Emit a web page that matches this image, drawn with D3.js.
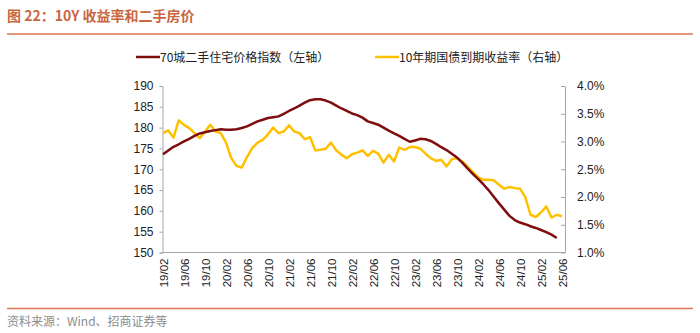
<!DOCTYPE html>
<html>
<head>
<meta charset="utf-8">
<script src="https://cdn.jsdelivr.net/npm/d3@7"></script>
<style>
  body { margin: 0; background: #fff; }
  svg { display: block; font-family: "Liberation Sans", "Noto Sans CJK SC", sans-serif; }
</style>
</head>
<body>
<div id="chart"></div>
<script>
// monthly, 2019/02 .. 2025/06
const startMonth = [2019, 2];
const priceIndex = [
  173.6, 174.5, 175.4, 176.0, 176.7, 177.3, 178.0, 178.6, 178.9, 179.2,
  179.4, 179.6, 179.5, 179.5, 179.6, 179.9, 180.3, 180.9, 181.5, 181.9,
  182.3, 182.5, 182.7, 183.3, 184.0, 184.6, 185.3, 186.0, 186.6, 186.8,
  186.8, 186.5, 186.0, 185.3, 184.6, 184.0, 183.4, 183.0, 182.4, 181.5,
  181.1, 180.7, 180.0, 179.3, 178.6, 178.0, 177.3, 176.6, 176.9, 177.3,
  177.2, 176.8, 176.1, 175.3, 174.6, 173.7, 172.8, 171.6, 170.2, 168.9,
  167.7, 166.4, 165.0, 163.4, 161.8, 160.3, 158.8, 157.8, 157.2, 156.8,
  156.3, 155.9, 155.4, 154.9, 154.3, 153.5
];
const yield10y = [
  3.15, 3.20, 3.07, 3.38, 3.30, 3.24, 3.15, 3.06, 3.18, 3.30,
  3.18, 3.15, 2.98, 2.70, 2.56, 2.53, 2.72, 2.88, 2.98, 3.03,
  3.13, 3.25, 3.15, 3.18, 3.29, 3.18, 3.15, 3.04, 3.08, 2.84,
  2.85, 2.87, 2.98, 2.84, 2.76, 2.70, 2.77, 2.80, 2.84, 2.74,
  2.83, 2.78, 2.62, 2.76, 2.64, 2.89, 2.85, 2.90, 2.90, 2.87,
  2.78, 2.70, 2.65, 2.67, 2.55, 2.68, 2.70, 2.64, 2.55, 2.45,
  2.36, 2.31, 2.31, 2.30, 2.22, 2.15, 2.18, 2.16, 2.15, 2.00,
  1.68, 1.64, 1.72, 1.83, 1.63, 1.68, 1.65
];
const leftTicks = [150, 155, 160, 165, 170, 175, 180, 185, 190];
const rightTicks = [1.0, 1.5, 2.0, 2.5, 3.0, 3.5, 4.0];
const seriesNames = ["70城二手住宅价格指数（左轴）", "10年期国债到期收益率（右轴）"];

function monthLabel(i) {
  const m0 = startMonth[1] - 1 + i;
  const y = startMonth[0] + Math.floor(m0 / 12);
  const m = (m0 % 12) + 1;
  return String(y % 100).padStart(2, "0") + "/" + String(m).padStart(2, "0");
}

const width = 700, height = 333;
const svg = d3.select("#chart").append("svg")
  .attr("width", width).attr("height", height);

const titleColor = "#c9663f";
const cjk = '"Noto Sans CJK SC", sans-serif';

// header
svg.append("text")
  .attr("x", 7).attr("y", 21)
  .attr("fill", titleColor)
  .style("font-family", cjk)
  .style("font-size", "14px").style("font-weight", "bold")
  .text("图 22：10Y 收益率和二手房价");
svg.append("line")
  .attr("x1", 7).attr("x2", 693).attr("y1", 34).attr("y2", 34)
  .attr("stroke", "#d9774f").attr("stroke-width", 1.5);

// footer
svg.append("line")
  .attr("x1", 7).attr("x2", 693).attr("y1", 308.5).attr("y2", 308.5)
  .attr("stroke", "#d9774f").attr("stroke-width", 1.5);
svg.append("text")
  .attr("x", 7).attr("y", 326)
  .attr("fill", "#8c8c8c")
  .style("font-family", cjk)
  .style("font-size", "12px")
  .text("资料来源：Wind、招商证券等");

const plotL = 162.5, plotR = 565, plotT = 86, plotB = 252.5;

const x = d3.scaleLinear().domain([0, yield10y.length - 1]).range([163, 562]);
const yL = d3.scaleLinear().domain([150, 190]).range([plotB, plotT]);
const yR = d3.scaleLinear().domain([1.0, 4.0]).range([plotB, plotT]);

const axisColor = "#a6a6a6";

// left axis
const gl = svg.append("g").attr("transform", `translate(${plotL},0)`)
  .call(d3.axisLeft(yL).tickValues(leftTicks).tickSize(3).tickPadding(6).tickFormat(d3.format("d")));
// right axis
const gr = svg.append("g").attr("transform", `translate(${plotR},0)`)
  .call(d3.axisRight(yR).tickValues(rightTicks).tickSizeInner(-4).tickSizeOuter(0).tickPadding(12)
    .tickFormat(d => d.toFixed(1) + "%"));
[gl, gr].forEach(g => {
  g.select(".domain").attr("stroke", axisColor);
  g.selectAll(".tick line").attr("stroke", axisColor);
  g.selectAll(".tick text").attr("fill", "#222").style("font-size", "12px");
});

// bottom axis
const labelIdx = d3.range(0, yield10y.length, 4);
const gb = svg.append("g").attr("transform", `translate(0,${plotB})`)
  .call(d3.axisBottom(x).tickValues(labelIdx).tickSize(0).tickFormat(monthLabel));
gb.select(".domain").attr("stroke", axisColor).attr("d", `M${plotL},0H${plotR}`);
gb.selectAll(".tick text")
  .attr("fill", "#222")
  .style("font-size", "11.5px")
  .attr("text-anchor", "end")
  .attr("transform", "rotate(-90)")
  .attr("x", -6).attr("y", 0).attr("dy", "0.35em");

// lines
const priceLine = d3.line().x((d, i) => x(i)).y(d => yL(d));
const yieldLine = d3.line().x((d, i) => x(i)).y(d => yR(d));

svg.append("path").datum(yield10y)
  .attr("d", yieldLine).attr("fill", "none")
  .attr("stroke", "#ffc000").attr("stroke-width", 2.5).attr("stroke-linejoin", "round");
svg.append("path").datum(priceIndex)
  .attr("d", priceLine).attr("fill", "none")
  .attr("stroke", "#7f0d0d").attr("stroke-width", 2.5).attr("stroke-linejoin", "round");

// legend
const legend = [
  { name: seriesNames[0], color: "#7f0d0d", x: 136 },
  { name: seriesNames[1], color: "#ffc000", x: 375 }
];
legend.forEach(l => {
  svg.append("line")
    .attr("x1", l.x).attr("x2", l.x + 24).attr("y1", 57).attr("y2", 57)
    .attr("stroke", l.color).attr("stroke-width", 2.5);
  svg.append("text")
    .attr("x", l.x + 24).attr("y", 61.5)
    .attr("fill", "#222")
    .style("font-family", cjk)
    .style("font-size", "12px")
    .text(l.name);
});
</script>
</body>
</html>
